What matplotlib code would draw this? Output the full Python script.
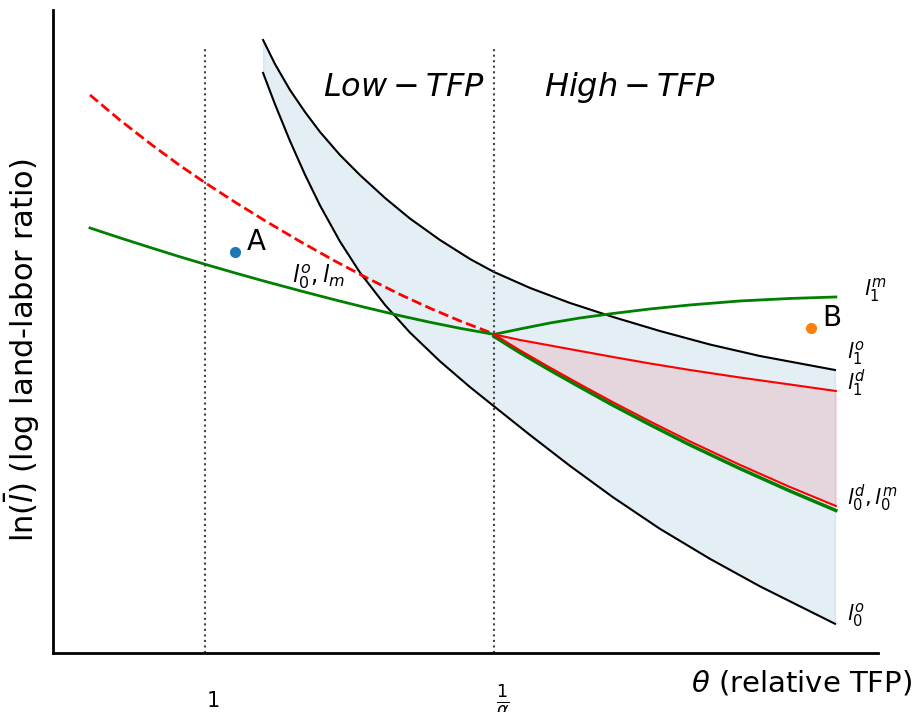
import matplotlib.pyplot as plt
from matplotlib.transforms import blended_transform_factory

# values (theta units: 1 and 1/alpha = 2)
band_x = [1.201, 1.242, 1.294, 1.346, 1.398, 1.467, 1.536, 1.623, 1.709, 1.813,
          1.917, 2.0, 2.125, 2.263, 2.412, 2.574, 2.747, 2.920, 3.180]
l1o_y = [6.13, 5.89, 5.63, 5.41, 5.21, 4.98, 4.78, 4.55, 4.345, 4.13,
         3.94, 3.81, 3.65, 3.50, 3.36, 3.22, 3.085, 2.97, 2.83]
l0o_y = [5.80, 5.488, 5.12, 4.783, 4.475, 4.115, 3.805, 3.48, 3.205, 2.917,
         2.659, 2.467, 2.179, 1.871, 1.557, 1.242, 0.942, 0.667, 0.292]

left_x = [0.602, 0.706, 0.810, 0.913, 1.0, 1.104, 1.208, 1.329, 1.450, 1.554, 1.675, 1.779, 1.882, 2.0]
dash_y = [5.58, 5.328, 5.094, 4.875, 4.703, 4.508, 4.322, 4.115, 3.919, 3.76, 3.585, 3.447, 3.321, 3.19]
gl_y = [4.25, 4.151, 4.055, 3.962, 3.887, 3.80, 3.716, 3.622, 3.531, 3.456, 3.373, 3.307, 3.247, 3.186]

hi_x = [2.0, 2.090, 2.194, 2.298, 2.412, 2.540, 2.678, 2.851, 3.024, 3.183]
l1m_y = [3.186, 3.24, 3.30, 3.35, 3.395, 3.44, 3.48, 3.52, 3.545, 3.56]
l1d_y = [3.186, 3.13, 3.075, 3.02, 2.96, 2.895, 2.83, 2.755, 2.685, 2.62]
l0d_y = [3.186, 3.026, 2.853, 2.686, 2.507, 2.315, 2.116, 1.881, 1.66, 1.47]
l0m_y = [3.166, 3.003, 2.828, 2.659, 2.477, 2.283, 2.081, 1.844, 1.62, 1.425]

A = (1.104, 4.01)
B = (3.097, 3.25)
vlines = [1.0, 2.0]

fig = plt.figure(figsize=(9.17, 7.12), dpi=100)
ax = fig.add_axes([0.0578, 0.0829, 0.8997, 0.9031])

ax.fill_between(band_x, l0o_y, l1o_y, color='C0', alpha=0.12)
ax.fill_between(hi_x, l0d_y, l1d_y, color='red', alpha=0.1)

kw = dict(solid_joinstyle='round')
ax.plot(band_x, l1o_y, color='black', lw=1.5, **kw)
ax.plot(band_x, l0o_y, color='black', lw=1.5, **kw)
ax.plot(left_x, dash_y, 'r--', lw=2)
ax.plot(left_x, gl_y, color='green', lw=2, **kw)
ax.plot(hi_x, l1m_y, color='green', lw=2, **kw)
ax.plot(hi_x, l0m_y, color='green', lw=2.5, **kw)
ax.plot(hi_x, l1d_y, color='red', lw=1.5, **kw)
ax.plot(hi_x, l0d_y, color='red', lw=1.5, **kw)

for v in vlines:
    ax.plot([v, v], [0, 6.06], ls=':', color='#444444', lw=1.5)

ax.plot(*A, 'o', color='C0', ms=7)
ax.plot(*B, 'o', color='C1', ms=7)
ax.text(A[0] + 0.04, A[1] + 0.1, 'A', fontsize=20, va='center')
ax.text(B[0] + 0.04, B[1] + 0.1, 'B', fontsize=20, va='center')

ax.text(1.69, 5.65, '$Low-TFP$', fontsize=23, ha='center', va='center')
ax.text(2.47, 5.65, '$High-TFP$', fontsize=23, ha='center', va='center')

ax.text(1.30, 3.76, '$l_0^o, l_m$', fontsize=16.5, ha='left', va='center')
ax.text(3.28, 3.63, '$l_1^m$', fontsize=15, ha='left', va='center')
ax.text(3.22, 3.00, '$l_1^o$', fontsize=15, ha='left', va='center')
ax.text(3.22, 2.70, '$l_1^d$', fontsize=15, ha='left', va='center')
ax.text(3.22, 1.55, '$l_0^d, l_0^m$', fontsize=15, ha='left', va='center')
ax.text(3.22, 0.38, '$l_0^o$', fontsize=15, ha='left', va='center')

tr = blended_transform_factory(ax.transData, ax.transAxes)
ax.text(1.03, -0.075, '1', fontsize=15, ha='center', va='center', transform=tr)
ax.text(2.03, -0.075, r'$\frac{1}{\alpha}$', fontsize=18, ha='center', va='center', transform=tr)

ax.set_xlim(0.474, 3.329)
ax.set_ylim(0, 6.43)
ax.set_xticks([])
ax.set_yticks([])
for s in ['top', 'right']:
    ax.spines[s].set_visible(False)
for s in ['left', 'bottom']:
    ax.spines[s].set_linewidth(2)

fig.text(912 / 917, 1 - 683 / 712, r'$\theta$ (relative TFP)', fontsize=21, ha='right', va='center')
fig.text(22 / 917, 1 - 350 / 712, r'$\ln(\bar{l})$ (log land-labor ratio)', fontsize=22,
         rotation=90, ha='center', va='center')

fig.savefig('out.png', dpi=100)
